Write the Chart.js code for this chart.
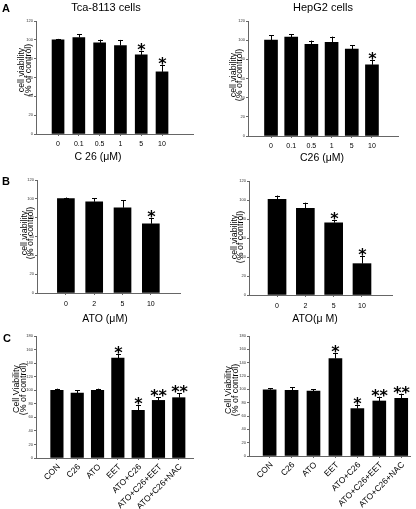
<!DOCTYPE html>
<html>
<head>
<meta charset="utf-8">
<script src="https://cdn.jsdelivr.net/npm/chart.js@4.4.1/dist/chart.umd.min.js"></script>
<style>
  body { margin: 0; background: #fff; }
  #fig { position: relative; width: 416px; height: 509px; overflow: hidden; font-family: "Liberation Sans", Arial, sans-serif; }
  canvas { position: absolute; }
  .t { position: absolute; white-space: nowrap; color: #000; transform: translate(-50%, -50%); line-height: 1; }
  .rot { transform: translate(-50%, -50%) rotate(-90deg); font-size: 8.8px; }
  .letter { font-weight: bold; font-size: 11px; }
  .xt { font-size: 10.5px; }
</style>
</head>
<body>
<div id="fig">
  <canvas id="cA1" width="205" height="160" style="left:0;top:0"></canvas>
  <canvas id="cA2" width="211" height="160" style="left:205px;top:0"></canvas>
  <canvas id="cB1" width="205" height="160" style="left:0;top:160px"></canvas>
  <canvas id="cB2" width="211" height="160" style="left:205px;top:160px"></canvas>
  <canvas id="cC1" width="205" height="189" style="left:0;top:320px"></canvas>
  <canvas id="cC2" width="211" height="189" style="left:205px;top:320px"></canvas>

  <div class="t letter" style="left:6px;top:8px">A</div>
  <div class="t letter" style="left:6px;top:181px">B</div>
  <div class="t letter" style="left:7px;top:338px">C</div>

  <div class="t" style="left:106px;top:7px;font-size:11px">Tca-8113 cells</div>
  <div class="t" style="left:323px;top:7px;font-size:11px">HepG2 cells</div>

  <div class="t xt" style="left:98px;top:156px">C 26 (μM)</div>
  <div class="t xt" style="left:322px;top:157px">C26 (μM)</div>
  <div class="t xt" style="left:105px;top:318px">ATO (μM)</div>
  <div class="t xt" style="left:315px;top:318px">ATO(μ M)</div>

  <div class="t rot" style="left:21px;top:70px">cell viability</div>
  <div class="t rot" style="left:27.5px;top:70px">(% of control)</div>
  <div class="t rot" style="left:233px;top:75px">cell viability</div>
  <div class="t rot" style="left:239px;top:75px">(% of control)</div>
  <div class="t rot" style="left:23.5px;top:233px">cell viability</div>
  <div class="t rot" style="left:30px;top:233px">(% of control)</div>
  <div class="t rot" style="left:234px;top:237px">cell viability</div>
  <div class="t rot" style="left:240px;top:237px">(% of control)</div>
  <div class="t rot" style="left:16px;top:389px">Cell Viability</div>
  <div class="t rot" style="left:23px;top:389px">(% of control)</div>
  <div class="t rot" style="left:228px;top:390px">Cell Viability</div>
  <div class="t rot" style="left:234.5px;top:390px">(% of control)</div>
</div>

<script>
// panel A : C26 dose
const c26Doses = ['0', '0.1', '0.5', '1', '5', '10'];
const tcaC26 = [100, 102.4, 96.7, 93.9, 84, 66];
const tcaC26Err = [1, 3.5, 3.5, 6, 4, 7.5];
const tcaC26Sig = ['', '', '', '', '*', '*'];
const hepC26 = [100.1, 103.2, 95.6, 97.7, 90.7, 74.3];
const hepC26Err = [5, 3, 4, 6, 4, 5.5];
const hepC26Sig = ['', '', '', '', '', '*'];

// panel B : ATO dose
const atoDoses = ['0', '2', '5', '10'];
const tcaAto = [100.4, 96.9, 90.5, 73.5];
const tcaAtoErr = [1, 3.5, 8, 6];
const tcaAtoSig = ['', '', '', '*'];
const hepAto = [100.7, 91.2, 76.1, 33];
const hepAtoErr = [4, 6, 2.5, 8.5];
const hepAtoSig = ['', '', '*', '*'];

// panel C : combinations
const treatments = ['CON', 'C26', 'ATO', 'EET', 'ATO+C26', 'ATO+C26+EET', 'ATO+C26+NAC'];
const tcaTreat = [99.8, 95.9, 99.8, 147.5, 70.3, 85, 89];
const tcaTreatErr = [2.5, 4, 2.5, 6.4, 7.4, 5, 6.4];
const hepTreat = [99.4, 98.4, 97.5, 146.2, 71.1, 82.5, 86.5];
const hepTreatErr = [2, 5, 3, 8, 6, 6.5, 7];
const treatSig = ['', '', '', '*', '*', '**', '**'];

const axisColor = '#666';

// error bars (upper only) + asterisks
const errPlugin = {
    id: 'errPlugin',
    afterDatasetsDraw(chart, args, opts) {
        const ctx = chart.ctx;
        const xs = chart.scales.x, ys = chart.scales.y;
        ctx.save();
        ctx.strokeStyle = '#000';
        ctx.lineWidth = 1;
        opts.values.forEach((v, i) => {
            const x = Math.round(xs.getPixelForValue(i)) + 0.5;
            const yTop = ys.getPixelForValue(v);
            const yErr = ys.getPixelForValue(v + opts.errors[i]);
            ctx.beginPath();
            ctx.moveTo(x, yTop);
            ctx.lineTo(x, yErr);
            ctx.moveTo(x - 2.5, Math.round(yErr) + 0.5);
            ctx.lineTo(x + 2.5, Math.round(yErr) + 0.5);
            ctx.stroke();
            if (opts.sig[i]) {
                ctx.fillStyle = '#000';
                ctx.font = 'bold 16px "DejaVu Sans"';
                ctx.textAlign = 'center';
                ctx.textBaseline = 'alphabetic';
                ctx.fillText(opts.sig[i], x, yErr + 4);
            }
        });
        ctx.restore();
    }
};

function makePanel(id, p) {
    const labels = p.labels;
    new Chart(document.getElementById(id), {
        type: 'bar',
        data: {
            datasets: [{
                data: p.values.map((v, i) => ({ x: i, y: v })),
                backgroundColor: '#000',
                borderWidth: 0,
                barThickness: p.barW
            }]
        },
        options: {
            responsive: false,
            animation: false,
            layout: { padding: { left: 0, top: p.top, right: p.right, bottom: 0 } },
            plugins: {
                legend: { display: false },
                tooltip: { enabled: false },
                errPlugin: { values: p.values, errors: p.errors, sig: p.sig }
            },
            scales: {
                x: {
                    type: 'linear',
                    offset: false,
                    min: p.xMin,
                    max: p.xMax,
                    afterBuildTicks: (s) => { s.ticks = labels.map((_, i) => ({ value: i })); },
                    afterFit: (s) => { s.height = p.xH; },
                    grid: { display: true, offset: false, drawOnChartArea: false, tickLength: 2, color: axisColor },
                    border: { color: axisColor, width: 1 },
                    ticks: {
                        callback: (v) => labels[Math.round(v)],
                        color: '#000',
                        font: { size: p.xFont, family: '"Liberation Sans", Arial' },
                        padding: p.xPad,
                        labelOffset: p.lblOff,
                        minRotation: p.rot,
                        maxRotation: p.rot,
                        autoSkip: false
                    }
                },
                y: {
                    min: 0,
                    max: p.yMax,
                    afterFit: (s) => { s.width = p.yW; },
                    grid: { display: true, drawOnChartArea: false, tickLength: 2, color: axisColor },
                    border: { color: axisColor, width: 1 },
                    ticks: {
                        stepSize: 20,
                        color: '#333',
                        font: { size: 4, family: '"Liberation Sans", Arial' },
                        padding: 1
                    }
                }
            }
        },
        plugins: [errPlugin]
    });
}

makePanel('cA1', { labels: c26Doses, values: tcaC26, errors: tcaC26Err, sig: tcaC26Sig,
    yMax: 120, top: 21, right: 12, yW: 36, xH: 26, xMin: -1.06, xMax: 6.49, barW: 12, xFont: 7, xPad: 4, lblOff: 0, rot: 0 });
makePanel('cA2', { labels: c26Doses, values: hepC26, errors: hepC26Err, sig: hepC26Sig,
    yMax: 120, top: 21, right: 18, yW: 43, xH: 24, xMin: -1.14, xMax: 6.29, barW: 13, xFont: 7, xPad: 4, lblOff: 0, rot: 0 });
makePanel('cB1', { labels: atoDoses, values: tcaAto, errors: tcaAtoErr, sig: tcaAtoSig,
    yMax: 120, top: 20, right: 25, yW: 37, xH: 27, xMin: -1.02, xMax: 4.03, barW: 17, xFont: 7, xPad: 5, lblOff: 0, rot: 0 });
makePanel('cB2', { labels: atoDoses, values: hepAto, errors: hepAtoErr, sig: hepAtoSig,
    yMax: 120, top: 21, right: 24, yW: 44, xH: 25, xMin: -0.99, xMax: 4.06, barW: 18, xFont: 7, xPad: 5, lblOff: 0, rot: 0 });
makePanel('cC1', { labels: treatments, values: tcaTreat, errors: tcaTreatErr, sig: treatSig,
    yMax: 180, top: 16, right: 12, yW: 36, xH: 51, xMin: -1.03, xMax: 6.7, barW: 12.5, xFont: 8.5, xPad: 2, lblOff: 2, rot: 45 });
makePanel('cC2', { labels: treatments, values: hepTreat, errors: hepTreatErr, sig: treatSig,
    yMax: 180, top: 16, right: 6, yW: 44, xH: 53, xMin: -0.94, xMax: 6.4, barW: 13, xFont: 8.5, xPad: 2, lblOff: 2, rot: 45 });
</script>
</body>
</html>
